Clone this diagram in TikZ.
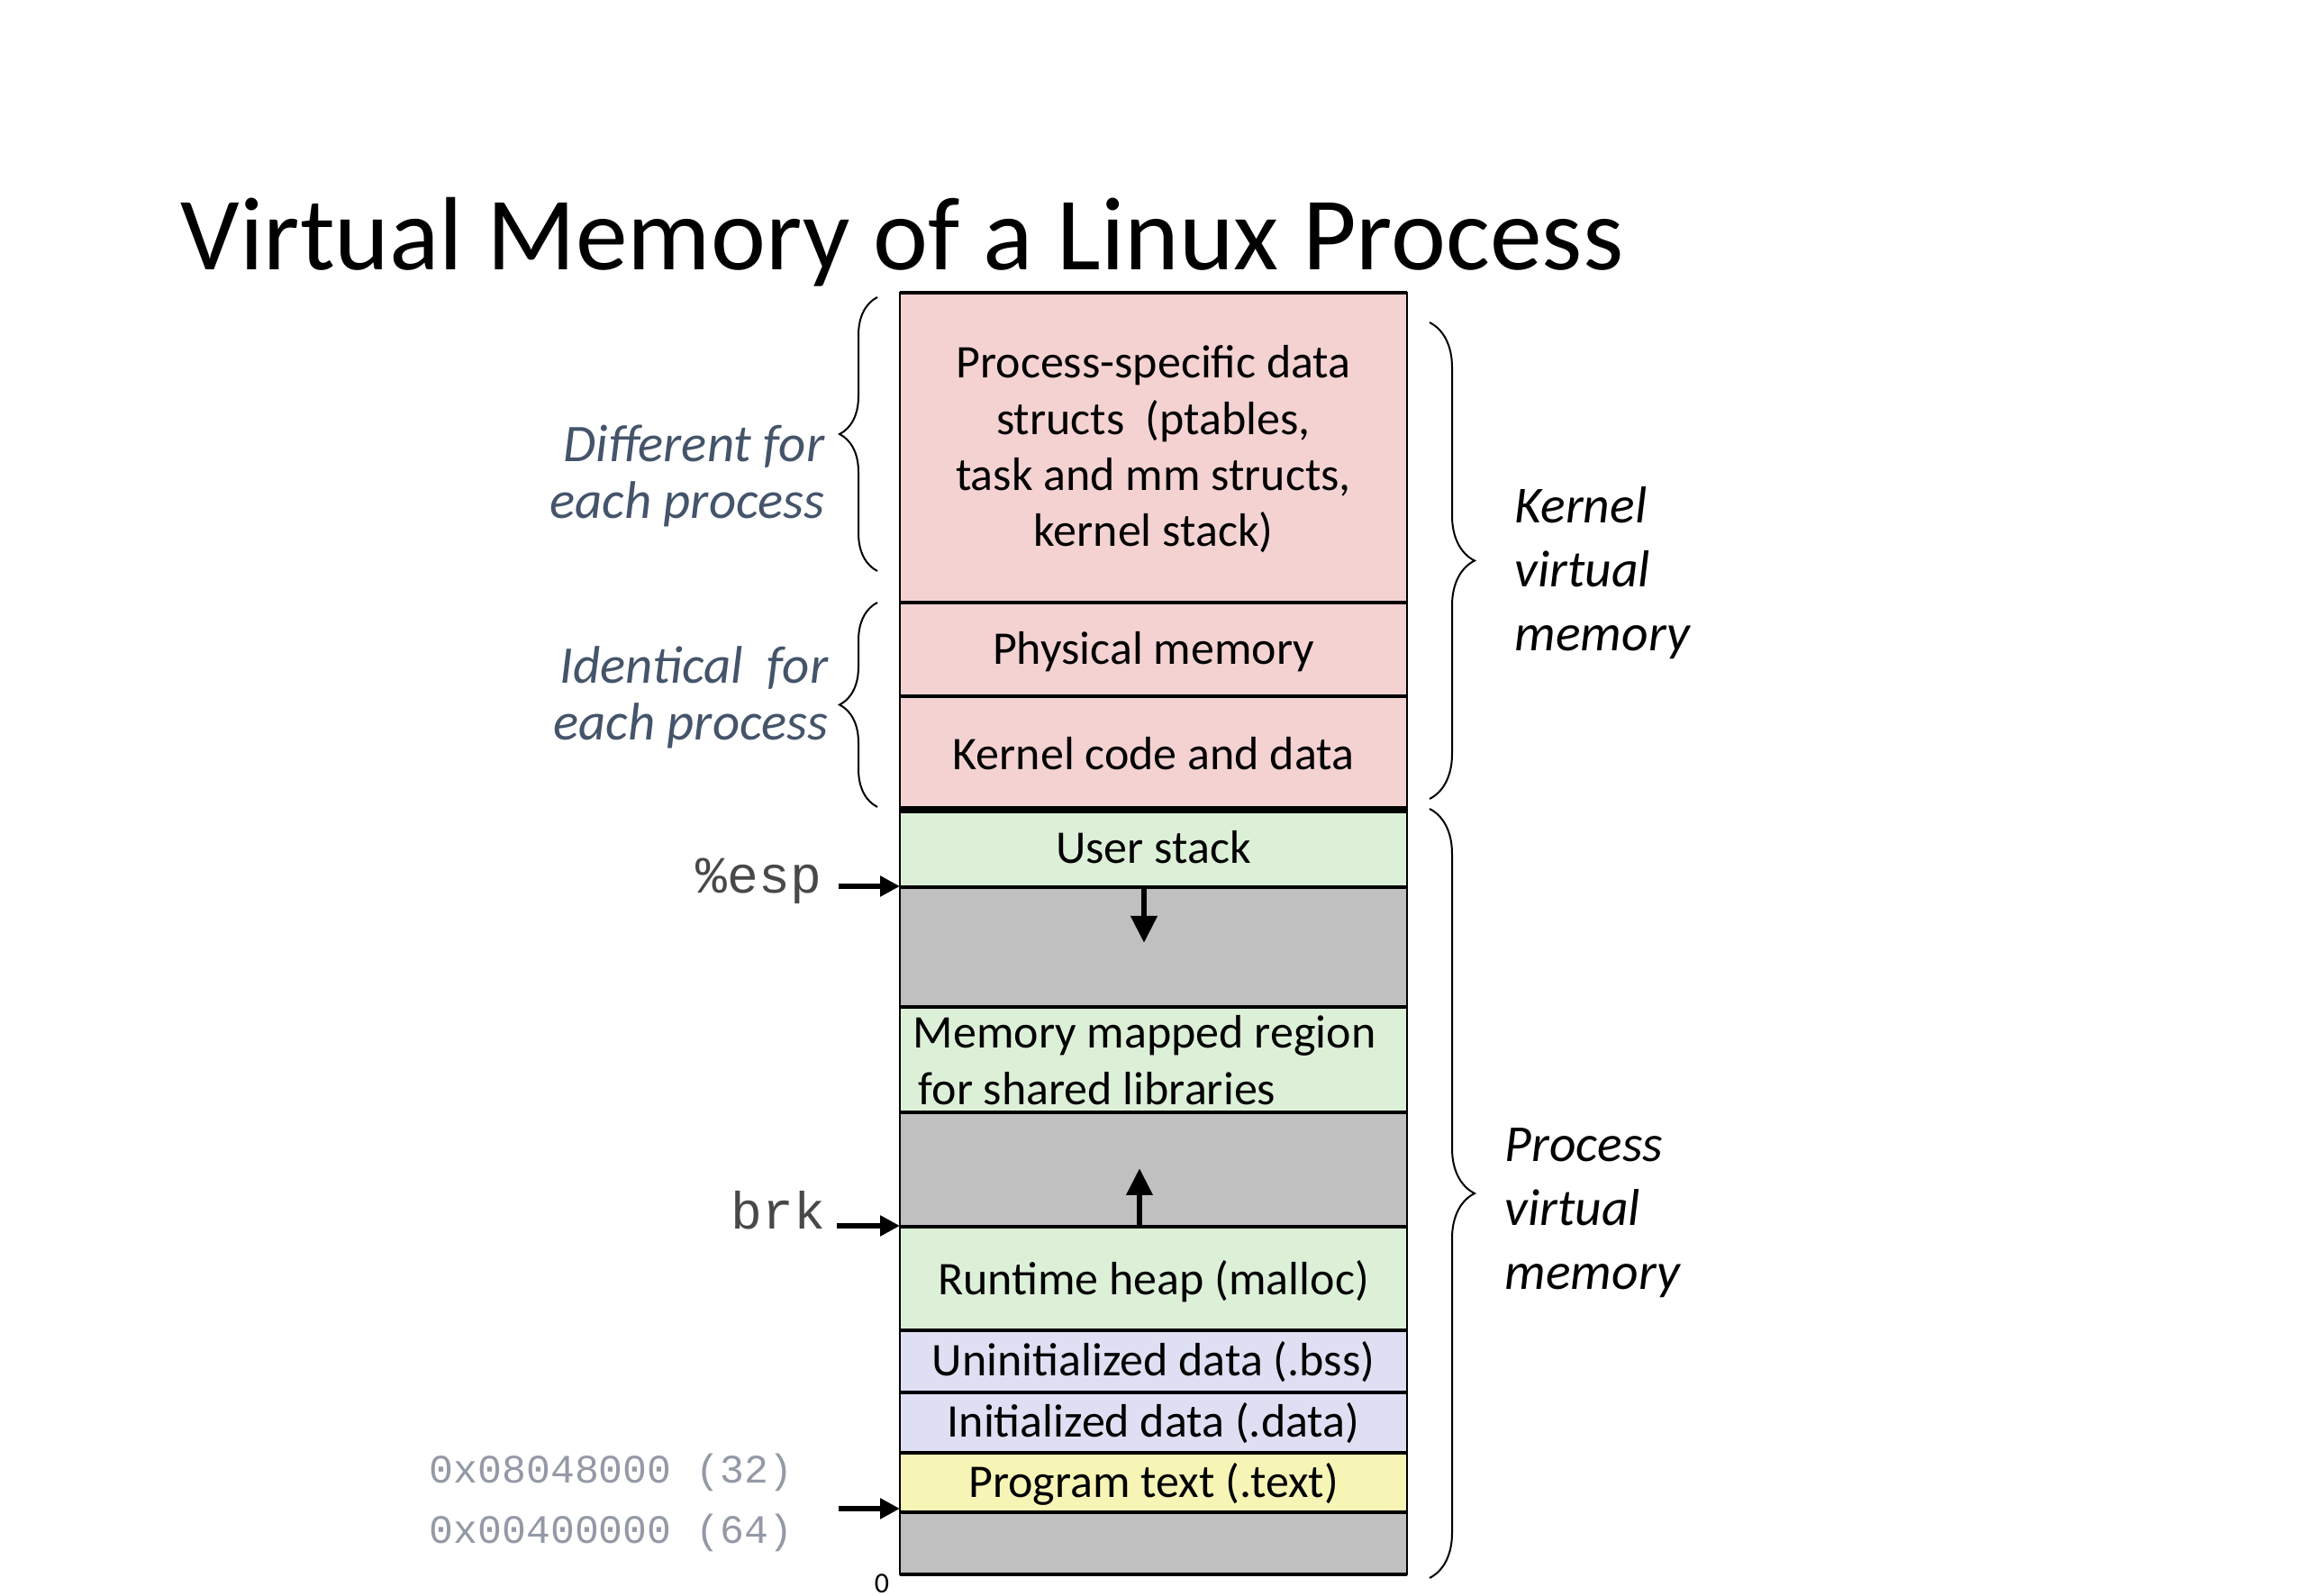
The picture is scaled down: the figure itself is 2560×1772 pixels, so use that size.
\documentclass[tikz,border=0pt]{standalone}
\usepackage{fontspec}
\setmainfont{Carlito}
\newfontfamily\codefont{Liberation Mono}
\usetikzlibrary{arrows.meta,decorations.pathreplacing}
\definecolor{kpink}{RGB}{244,210,210}
\definecolor{ugreen}{RGB}{220,240,216}
\definecolor{dlav}{RGB}{222,223,243}
\definecolor{tyellow}{RGB}{246,245,182}
\definecolor{ggray}{RGB}{192,192,192}
\definecolor{slate}{RGB}{68,84,106}
\definecolor{hexgray}{RGB}{148,153,166}
\definecolor{codegray}{RGB}{72,72,72}
\newcommand{\toprl}[1]{\rule{0pt}{#1}}
\begin{document}
\begin{tikzpicture}[x=0.25pt,y=-0.25pt,
  segbox/.style={draw=black,line width=0.6pt},
  sepline/.style={line width=0.9pt},
  boxtext/.style={inner sep=0pt,font=\fontsize{13pt}{15.6pt}\selectfont,anchor=base},
  sidelab/.style={inner sep=0pt,font=\fontsize{14.4pt}{17.75pt}\selectfont\itshape,align=left,anchor=north west},
  leftlab/.style={inner sep=0pt,font=\fontsize{14.7pt}{15.6pt}\selectfont\itshape,text=slate,align=right,anchor=north east},
  bracel/.style={decorate,decoration={brace,amplitude=10.5pt},line width=0.5pt},
  bracer/.style={decorate,decoration={brace,amplitude=12.5pt},line width=0.5pt},
  ptr/.style={line width=1.5pt,-{Triangle[length=5.5pt,width=5.5pt]}},
  growarrow/.style={line width=1.7pt,-{Triangle[length=7.5pt,width=7pt]}},
  codelab/.style={inner sep=0pt,font=\codefont\fontsize{14.5pt}{17pt}\selectfont,text=codegray,anchor=base east},
  hexlab/.style={inner sep=0pt,font=\codefont\fontsize{11.2pt}{13pt}\selectfont,text=hexgray,anchor=base west},
]
\fill[white] (0,0) rectangle (2560,1772);
\useasboundingbox (0,0) rectangle (2560,1772);

% title
\node[anchor=base west,inner sep=0pt,font=\fontsize{28.9pt}{35pt}\selectfont] (title) at (200,300) {Virtual Memory of a Linux Process};

% memory segments
\filldraw[segbox,fill=kpink]   (999,325)  rectangle (1562,669);
\filldraw[segbox,fill=kpink]   (999,669)  rectangle (1562,773);
\filldraw[segbox,fill=kpink]   (999,773)  rectangle (1562,899);
\filldraw[segbox,fill=ugreen]  (999,899)  rectangle (1562,985);
\filldraw[segbox,fill=ggray]   (999,985)  rectangle (1562,1118);
\filldraw[segbox,fill=ugreen]  (999,1118) rectangle (1562,1235);
\filldraw[segbox,fill=ggray]   (999,1235) rectangle (1562,1362);
\filldraw[segbox,fill=ugreen]  (999,1362) rectangle (1562,1477);
\filldraw[segbox,fill=dlav]    (999,1477) rectangle (1562,1546);
\filldraw[segbox,fill=dlav]    (999,1546) rectangle (1562,1613);
\filldraw[segbox,fill=tyellow] (999,1613) rectangle (1562,1679);
\filldraw[segbox,fill=ggray]   (999,1679) rectangle (1562,1748);

\foreach \yy in {325,669,773,985,1118,1235,1362,1477,1546,1613,1679,1748}
  \draw[sepline] (999,\yy) -- (1562,\yy);
\draw[line width=2pt] (999,899) -- (1562,899);

% segment labels
\node[boxtext,align=center,anchor=north] (ps) at (1280.5,359) {\toprl{15pt}Process-specific data\\structs\ \ (ptables,\\task and mm structs,\\kernel stack)};
\node[boxtext] (phys) at (1280.5,738) {Physical memory};
\node[boxtext] (kcode) at (1280.5,855) {Kernel code and data};
\node[boxtext] (ustack) at (1280.5,959) {User stack};
\node[boxtext,align=left,anchor=north west] (mmap) at (1013,1103) {\toprl{15pt}Memory mapped region\\\hspace{1.5pt}for shared libraries};
\node[boxtext] (heap) at (1280.5,1438) {Runtime heap (malloc)};
\node[boxtext] (bss) at (1280.5,1528) {Uninitialized data (.bss)};
\node[boxtext] (data) at (1280.5,1596) {Initialized data (.data)};
\node[boxtext] (text) at (1280.5,1663) {Program text (.text)};

% growth arrows
\coordinate (stkTop) at (1270,987);
\coordinate (stkTip) at (1270,1047);
\coordinate (heapTop) at (1265,1360);
\coordinate (heapTip) at (1265,1297);
\draw[growarrow] (stkTop) -- (stkTip);
\draw[growarrow] (heapTop) -- (heapTip);

% pointer labels
\node[codelab] (esp) at (913,992) {\%esp};
\node[codelab] (brk) at (917,1365) {brk};
\node[hexlab] (hexa) at (476,1647) {0x08048000 (32)};
\node[hexlab] (hexb) at (476,1713) {0x00400000 (64)};
\node[inner sep=0pt,font=\fontsize{8pt}{9pt}\selectfont] (zero) at (979,1758) {0};

\coordinate (espT) at (931,984);
\coordinate (espH) at (999,984);
\coordinate (brkT) at (929,1361);
\coordinate (brkH) at (999,1361);
\coordinate (txtT) at (931,1675);
\coordinate (txtH) at (999,1675);
\draw[ptr] (espT) -- (espH);
\draw[ptr] (brkT) -- (brkH);
\draw[ptr] (txtT) -- (txtH);

% braces
\draw[bracel] (974,634) -- (974,330);
\draw[bracel] (974,896) -- (974,669);
\draw[bracer] (1587,358) -- (1587,887);
\draw[bracer] (1587,898) -- (1587,1752);

% side labels
\node[leftlab] (diff) at (916,452) {\toprl{15pt}Different for\\each process};
\node[leftlab] (ident) at (920,698) {\toprl{15pt}Identical\ \ for\\each process};
\node[sidelab] (kvm) at (1681,520) {\toprl{15pt}Kernel\\virtual\\memory};
\node[sidelab] (pvm) at (1670,1229) {\toprl{15pt}Process\\virtual\\memory};
\end{tikzpicture}
\end{document}
